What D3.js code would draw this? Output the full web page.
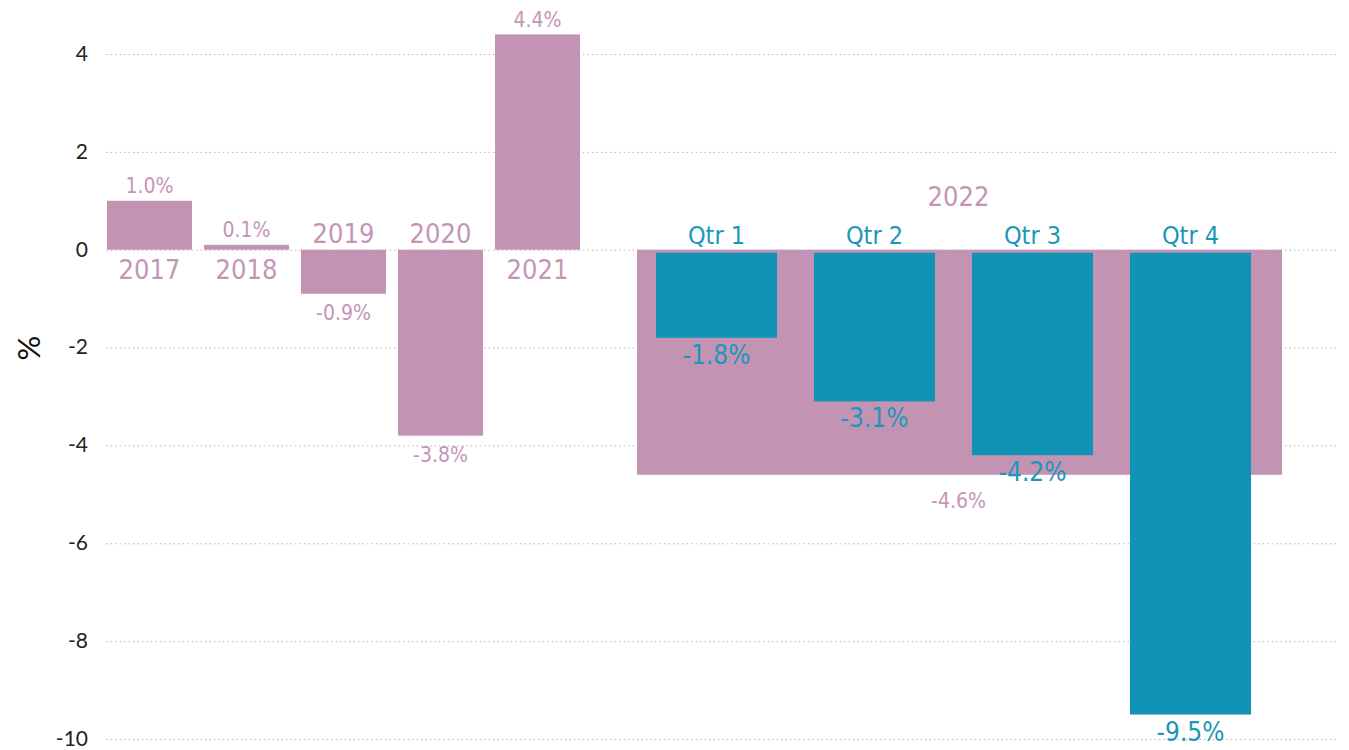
<!DOCTYPE html>
<html>
<head>
<meta charset="utf-8">
<script src="https://cdn.jsdelivr.net/npm/d3@7"></script>
<style>
  body { margin: 0; background: #fff; }
  .lbl { font-family: "DejaVu Sans Condensed", "DejaVu Sans", sans-serif; font-stretch: condensed; }
  .axis text { font-family: Lato, "Open Sans", sans-serif; font-size: 21px; fill: #222; }
  .axis .domain { display: none; }
  .axis line { stroke: #b4b4b4; stroke-dasharray: 1.5,3; }
</style>
</head>
<body>
<div id="chart"></div>
<script>
var years = ["2017", "2018", "2019", "2020", "2021"],
    yearValues = [1.0, 0.1, -0.9, -3.8, 4.4];

var label2022 = "2022",
    value2022 = -4.6;

var quarters = ["Qtr 1", "Qtr 2", "Qtr 3", "Qtr 4"],
    quarterValues = [-1.8, -3.1, -4.2, -9.5];

var yTicks = [4, 2, 0, -2, -4, -6, -8, -10];

var pink = "#c393b4",
    blue = "#1193b5",
    pinkText = "#c595b6",
    blueText = "#1c97b8";

var width = 1349, height = 750;

var svg = d3.select("#chart").append("svg")
    .attr("width", width)
    .attr("height", height);

var y = d3.scaleLinear()
    .domain([-10, 4])
    .range([739, 54]);

var xYear = d3.scaleBand()
    .domain(years)
    .range([101, 586])
    .paddingInner(0.124)
    .paddingOuter(0.062);

// 2022 spans a wider block, split into quarters
var span2022 = [637, 1282];

var xQtr = d3.scaleBand()
    .domain(quarters)
    .range([637, 1270])
    .paddingInner(0.234)
    .paddingOuter(0.12);

// gridlines + tick labels
var axisX = 88;
var yAxis = svg.append("g")
    .attr("class", "axis")
    .attr("transform", "translate(" + axisX + ",0)")
    .call(d3.axisLeft(y).tickValues(yTicks).tickSizeOuter(0).tickPadding(0)
      .tickFormat(function(d) { return String(d); }));

yAxis.selectAll(".tick line")
    .attr("x1", 106 - axisX)
    .attr("x2", 1336 - axisX);

yAxis.selectAll(".tick text")
    .attr("x", 0)
    .attr("dy", "0.3em");

svg.append("text")
    .attr("transform", "translate(29,348) rotate(-90)")
    .attr("text-anchor", "middle")
    .attr("dy", "0.35em")
    .style("font-family", "Lato, 'Open Sans', sans-serif")
    .style("font-size", "31px")
    .style("fill", "#111")
    .text("%");

// yearly bars
var yd = years.map(function(d, i) { return {name: d, value: yearValues[i]}; });

svg.selectAll(".ybar")
    .data(yd)
  .enter().append("rect")
    .attr("class", "ybar")
    .attr("x", function(d) { return xYear(d.name); })
    .attr("width", xYear.bandwidth())
    .attr("y", function(d) { return y(Math.max(0, d.value)); })
    .attr("height", function(d) { return Math.abs(y(d.value) - y(0)); })
    .attr("fill", pink);

// 2022 total bar
svg.append("rect")
    .attr("x", span2022[0])
    .attr("width", span2022[1] - span2022[0])
    .attr("y", y(0))
    .attr("height", y(value2022) - y(0))
    .attr("fill", pink);

// quarter bars
var qd = quarters.map(function(d, i) { return {name: d, value: quarterValues[i]}; });

svg.selectAll(".qbar")
    .data(qd)
  .enter().append("rect")
    .attr("class", "qbar")
    .attr("x", function(d) { return xQtr(d.name); })
    .attr("width", xQtr.bandwidth())
    .attr("y", y(0) + 3)
    .attr("height", function(d) { return y(d.value) - y(0) - 3; })
    .attr("fill", blue);

// year category labels (opposite side of bar)
svg.selectAll(".ycat")
    .data(yd)
  .enter().append("text")
    .attr("class", "lbl")
    .attr("x", function(d) { return xYear(d.name) + xYear.bandwidth() / 2; })
    .attr("y", function(d) { return d.value >= 0 ? y(0) + 20 : y(0) - 16; })
    .attr("dy", "0.35em")
    .attr("text-anchor", "middle")
    .style("font-size", "27px")
    .style("fill", pinkText)
    .text(function(d) { return d.name; });

// year value labels
svg.selectAll(".yval")
    .data(yd)
  .enter().append("text")
    .attr("class", "lbl")
    .attr("x", function(d) { return xYear(d.name) + xYear.bandwidth() / 2; })
    .attr("y", function(d) { return d.value >= 0 ? y(d.value) - 15 : y(d.value) + 19; })
    .attr("dy", "0.35em")
    .attr("text-anchor", "middle")
    .style("font-size", "21px")
    .style("fill", pinkText)
    .text(function(d) { return d.value.toFixed(1) + "%"; });

// 2022 labels
var mid2022 = (span2022[0] + span2022[1]) / 2 - 1;
svg.append("text")
    .attr("class", "lbl")
    .attr("x", mid2022)
    .attr("y", 197)
    .attr("dy", "0.35em")
    .attr("text-anchor", "middle")
    .style("font-size", "27px")
    .style("fill", pinkText)
    .text(label2022);

svg.append("text")
    .attr("class", "lbl")
    .attr("x", mid2022)
    .attr("y", y(value2022) + 26)
    .attr("dy", "0.35em")
    .attr("text-anchor", "middle")
    .style("font-size", "21px")
    .style("fill", pinkText)
    .text(value2022.toFixed(1) + "%");

// quarter labels
svg.selectAll(".qcat")
    .data(qd)
  .enter().append("text")
    .attr("class", "lbl")
    .attr("x", function(d) { return xQtr(d.name) + xQtr.bandwidth() / 2; })
    .attr("y", y(0) - 14)
    .attr("dy", "0.35em")
    .attr("text-anchor", "middle")
    .style("font-size", "25px")
    .style("fill", blueText)
    .text(function(d) { return d.name; });

svg.selectAll(".qval")
    .data(qd)
  .enter().append("text")
    .attr("class", "lbl")
    .attr("x", function(d) { return xQtr(d.name) + xQtr.bandwidth() / 2; })
    .attr("y", function(d) { return y(d.value) + 17; })
    .attr("dy", "0.35em")
    .attr("text-anchor", "middle")
    .style("font-size", "26px")
    .style("fill", blueText)
    .text(function(d) { return d.value.toFixed(1) + "%"; });
</script>
</body>
</html>
